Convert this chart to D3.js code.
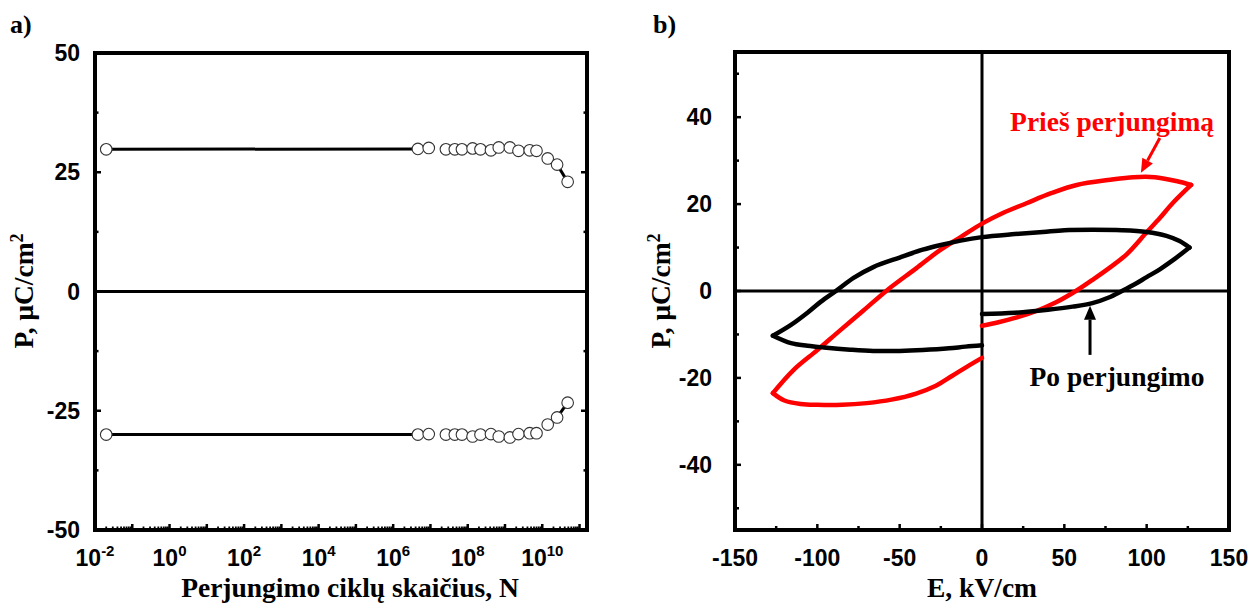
<!DOCTYPE html>
<html><head><meta charset="utf-8">
<script src="https://cdn.jsdelivr.net/npm/d3@7"></script>
<style>body{margin:0;background:#fff;} svg{display:block;}</style>
</head><body><svg id="c" width="1248" height="603"></svg>
<script>
// ---- Panel a) data ----
const cyclesN = [0.02, 4.6e6, 9e6, 2.6e7, 4.5e7, 7e7, 1.35e8, 2.2e8, 4.2e8, 6.8e8, 1.35e9, 2.3e9, 4.6e9, 7e9, 1.4e10, 2.5e10, 4.8e10];
const posP = [29.8, 29.9, 30.1, 29.8, 29.8, 29.8, 30.0, 29.8, 29.6, 30.2, 30.2, 29.5, 29.6, 29.5, 27.9, 26.6, 23.0];
const negP = [-30.0, -30.0, -29.9, -30.0, -30.0, -30.0, -30.4, -30.0, -29.9, -30.4, -30.6, -29.9, -29.7, -29.7, -27.9, -26.4, -23.3];
const yTicksA = [-50, -25, 0, 25, 50];
const xLabelExpA = [-2, 0, 2, 4, 6, 8, 10];

// ---- Panel b) data: [E (kV/cm), P (uC/cm2)] ----
const redLowerRight = [[0,-8],[10,-7.2],[20,-6.2],[33,-4.6],[45,-2.6],[57,0],[68,2.8],[78,5.5],[88,8.5],[100,13.5],[108,16.8],[116,20.3],[127,24.4]];
const redUpper = [[127,24.4],[118,25.3],[105,26.2],[92,26.2],[78,25.6],[57.5,24.4],[42,22.5],[27,20.2],[13,18],[0,15.5],[-13,12.4],[-25.5,9.4],[-40,5.2],[-57.6,0.2],[-72,-4.5],[-86,-9],[-100,-13.6],[-114.5,-18.2],[-127,-23.5]];
const redLowerLeft = [[-127,-23.5],[-120,-25.2],[-110,-26],[-100,-26.2],[-85,-26.2],[-70,-25.8],[-55,-25],[-40,-23.6],[-28,-21.8],[-18,-19.5],[-9,-17.4],[0,-15.4]];
const blackLowerRight = [[0,-5.3],[20,-5],[40,-4.3],[55,-3.6],[67,-2.8],[77,-1.5],[85,0],[93,1.6],[100,3.2],[108,5],[116,7.1],[126,10]];
const blackUpper = [[126,10],[120,11.5],[112,12.7],[100,13.6],[85,14],[67,14.1],[50,14],[37,13.6],[20,13.1],[0,12.4],[-13,11.6],[-25,10.6],[-36,9.5],[-50,7.7],[-66,5.5],[-78,3],[-88,0.2],[-98,-2.5],[-106,-5],[-116,-7.8],[-127,-10.3]];
const blackLowerLeft = [[-127,-10.3],[-116,-12],[-106,-12.6],[-96,-13],[-80,-13.5],[-66,-13.8],[-50,-13.8],[-36,-13.6],[-20,-13.2],[-10,-12.8],[0,-12.5]];
const xTicksB = [-150, -100, -50, 0, 50, 100, 150];
const yTicksB = [-40, -20, 0, 20, 40];

const svg = d3.select("#c");
const SERIF = "'Liberation Serif','Times New Roman',serif";
const SANS = "'Liberation Sans',Arial,sans-serif";
const TFS = 27.5;  // title font size
const LFS = 23;    // tick label font size

// ================= Panel a =================
const xA = d3.scaleLog().domain([0.01, Math.pow(10, 11.2)]).range([95, 587]);
const yA = d3.scaleLinear().domain([-50, 50]).range([530, 53]);
const gA = svg.append("g");

const tickA = gA.append("g").attr("stroke", "#000").attr("stroke-width", 2.5);
yTicksA.forEach(v => {
  tickA.append("line").attr("x1", xA.range()[0]).attr("x2", xA.range()[0] + 6).attr("y1", yA(v)).attr("y2", yA(v));
  tickA.append("line").attr("x1", xA.range()[1]).attr("x2", xA.range()[1] - 6).attr("y1", yA(v)).attr("y2", yA(v));
});
[-37.5, -12.5, 12.5, 37.5].forEach(v => {
  tickA.append("line").attr("x1", xA.range()[0]).attr("x2", xA.range()[0] + 3.5).attr("y1", yA(v)).attr("y2", yA(v));
  tickA.append("line").attr("x1", xA.range()[1]).attr("x2", xA.range()[1] - 3.5).attr("y1", yA(v)).attr("y2", yA(v));
});
for (let e = -2; e <= 11; e++) {
  const v = Math.pow(10, e);
  tickA.append("line").attr("x1", xA(v)).attr("x2", xA(v)).attr("y1", yA(-50)).attr("y2", yA(-50) - 6);
  for (let m = 2; m <= 9; m++) {
    const mv = m * v;
    if (mv > xA.domain()[1]) break;
    tickA.append("line").attr("x1", xA(mv)).attr("x2", xA(mv)).attr("y1", yA(-50)).attr("y2", yA(-50) - 3.5).attr("stroke-width", 1.8);
  }
}
gA.append("rect").attr("x", xA.range()[0]).attr("y", yA(50)).attr("width", xA.range()[1] - xA.range()[0]).attr("height", yA(-50) - yA(50))
  .attr("fill", "none").attr("stroke", "#000").attr("stroke-width", 4);
gA.append("line").attr("x1", xA.range()[0]).attr("x2", xA.range()[1]).attr("y1", yA(0)).attr("y2", yA(0)).attr("stroke", "#000").attr("stroke-width", 3);

yTicksA.forEach(v => {
  gA.append("text").attr("x", 80).attr("y", yA(v) + 8).attr("text-anchor", "end")
    .attr("font-family", SANS).attr("font-weight", "bold").attr("font-size", LFS).text(v);
});
xLabelExpA.forEach(e => {
  const t = gA.append("text").attr("x", xA(Math.pow(10, e))).attr("y", 566).attr("text-anchor", "middle")
    .attr("font-family", SANS).attr("font-weight", "bold").attr("font-size", LFS);
  t.append("tspan").text("10");
  t.append("tspan").attr("dy", -10).attr("font-size", 15).text(e);
});

const lineA = d3.line().x(d => xA(d[0])).y(d => yA(d[1]));
[posP, negP].forEach(arr => {
  const pts = cyclesN.map((n, i) => [n, arr[i]]);
  gA.append("path").attr("d", lineA(pts.slice(0, 2))).attr("fill", "none").attr("stroke", "#000").attr("stroke-width", 3);
  gA.append("path").attr("d", lineA(pts.slice(-2))).attr("fill", "none").attr("stroke", "#000").attr("stroke-width", 3);
  gA.append("g").selectAll("circle").data(pts).join("circle")
    .attr("cx", d => xA(d[0])).attr("cy", d => yA(d[1])).attr("r", 5.8)
    .attr("fill", "#fff").attr("stroke", "#333").attr("stroke-width", 1.1);
});

gA.append("text").attr("x", 10).attr("y", 33).attr("font-family", SERIF).attr("font-weight", "bold").attr("font-size", 26).text("a)");
gA.append("text").attr("x", 350).attr("y", 597).attr("text-anchor", "middle").attr("font-family", SERIF).attr("font-weight", "bold").attr("font-size", TFS).text("Perjungimo ciklų skaičius, N");
{
  const t = gA.append("text").attr("transform", "translate(33,291) rotate(-90)").attr("text-anchor", "middle")
    .attr("font-family", SERIF).attr("font-weight", "bold").attr("font-size", TFS);
  t.append("tspan").text("P, μC/cm");
  t.append("tspan").attr("dy", -10).attr("font-size", 18).text("2");
}

// ================= Panel b =================
const xB = d3.scaleLinear().domain([-150, 150]).range([735, 1229]);
const yB = d3.scaleLinear().domain([-55, 55]).range([530, 52]);
const gB = svg.append("g");
const tickB = gB.append("g").attr("stroke", "#000").attr("stroke-width", 2.5);
d3.range(-150, 151, 25).forEach(v => {
  const len = (v % 50 === 0) ? 6 : 4;
  tickB.append("line").attr("x1", xB(v)).attr("x2", xB(v)).attr("y1", yB(-55)).attr("y2", yB(-55) - len);
});
d3.range(-50, 51, 10).forEach(v => {
  const len = (v % 20 === 0) ? 6 : 4;
  tickB.append("line").attr("x1", xB(-150)).attr("x2", xB(-150) + len).attr("y1", yB(v)).attr("y2", yB(v));
});
gB.append("rect").attr("x", xB(-150)).attr("y", yB(55)).attr("width", xB(150) - xB(-150)).attr("height", yB(-55) - yB(55))
  .attr("fill", "none").attr("stroke", "#000").attr("stroke-width", 4);
gB.append("line").attr("x1", xB(0)).attr("x2", xB(0)).attr("y1", yB(55)).attr("y2", yB(-55)).attr("stroke", "#000").attr("stroke-width", 3);
gB.append("line").attr("x1", xB(-150)).attr("x2", xB(150)).attr("y1", yB(0)).attr("y2", yB(0)).attr("stroke", "#000").attr("stroke-width", 3);

xTicksB.forEach(v => {
  gB.append("text").attr("x", xB(v)).attr("y", 566).attr("text-anchor", "middle")
    .attr("font-family", SANS).attr("font-weight", "bold").attr("font-size", LFS).text(v);
});
yTicksB.forEach(v => {
  gB.append("text").attr("x", 712).attr("y", yB(v) + 8).attr("text-anchor", "end")
    .attr("font-family", SANS).attr("font-weight", "bold").attr("font-size", LFS).text(v);
});

const lineB = d3.line().x(d => xB(d[0])).y(d => yB(d[1])).curve(d3.curveCatmullRom.alpha(0.5));
[[redLowerRight, "#ff0000"], [redUpper, "#ff0000"], [redLowerLeft, "#ff0000"],
 [blackLowerRight, "#000"], [blackUpper, "#000"], [blackLowerLeft, "#000"]].forEach(([pts, col]) => {
  gB.append("path").attr("d", lineB(pts)).attr("fill", "none").attr("stroke", col)
    .attr("stroke-width", 4.5).attr("stroke-linejoin", "round").attr("stroke-linecap", "round");
});

function arrow(g, from, to, col) {
  const x1 = xB(from[0]), y1 = yB(from[1]), x2 = xB(to[0]), y2 = yB(to[1]);
  const ang = Math.atan2(y2 - y1, x2 - x1);
  const L = 14, W = 6;
  const bx = x2 - L * Math.cos(ang), by = y2 - L * Math.sin(ang);
  g.append("line").attr("x1", x1).attr("y1", y1).attr("x2", bx).attr("y2", by).attr("stroke", col).attr("stroke-width", 3);
  g.append("path").attr("d", `M${x2},${y2}L${bx + W * Math.sin(ang)},${by - W * Math.cos(ang)}L${bx - W * Math.sin(ang)},${by + W * Math.cos(ang)}Z`).attr("fill", col);
}
gB.append("text").attr("x", xB(79)).attr("y", yB(36.8)).attr("text-anchor", "middle").attr("fill", "#ff0000")
  .attr("font-family", SERIF).attr("font-weight", "bold").attr("font-size", TFS).text("Prieš perjungimą");
arrow(gB, [108, 35.2], [96.5, 27.2], "#ff0000");
gB.append("text").attr("x", xB(82)).attr("y", yB(-21.9)).attr("text-anchor", "middle").attr("fill", "#000")
  .attr("font-family", SERIF).attr("font-weight", "bold").attr("font-size", TFS).text("Po perjungimo");
arrow(gB, [65.6, -14.7], [65.6, -3.4], "#000");

gB.append("text").attr("x", 653).attr("y", 33).attr("font-family", SERIF).attr("font-weight", "bold").attr("font-size", 26).text("b)");
gB.append("text").attr("x", xB(0)).attr("y", 597).attr("text-anchor", "middle").attr("font-family", SERIF).attr("font-weight", "bold").attr("font-size", TFS).text("E, kV/cm");
{
  const t = gB.append("text").attr("transform", "translate(670,291) rotate(-90)").attr("text-anchor", "middle")
    .attr("font-family", SERIF).attr("font-weight", "bold").attr("font-size", TFS);
  t.append("tspan").text("P, μC/cm");
  t.append("tspan").attr("dy", -10).attr("font-size", 18).text("2");
}
</script></body></html>
